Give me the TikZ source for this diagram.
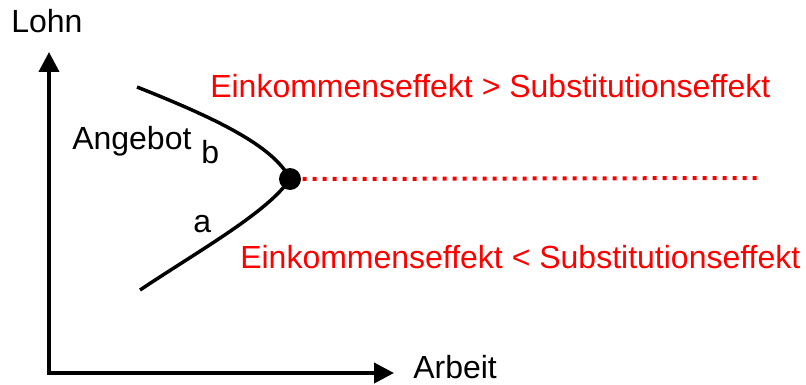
\documentclass[tikz,border=0pt]{standalone}
\usepackage{fontspec}
\setmainfont{Liberation Sans}
\usetikzlibrary{arrows.meta}
\definecolor{lblred}{RGB}{255,0,0}
\tikzset{
  axis/.style={line width=3pt,-{Triangle[length=15pt,width=15pt]}},
  curve/.style={line width=2.6pt},
  lbl/.style={font=\fontsize{24}{27}\selectfont,inner sep=0pt,anchor=base west},
  redlbl/.style={lbl,text=lblred},
  dotpt/.style={circle,fill=black,minimum size=16.5pt,inner sep=0pt},
  reddots/.style={line width=3pt,draw=lblred,dash pattern=on 3pt off 4.5pt}
}
\begin{document}
\begin{tikzpicture}[x=0.75pt,y=-0.75pt]
\useasboundingbox (0,0) rectangle (806,385);
\coordinate (O) at (49,373);
\coordinate (ytip) at (49,52);
\coordinate (xtip) at (394,373);
\draw[axis] ([yshift=-1.5pt]O) -- (ytip);
\draw[axis] (O) -- (xtip);
\node[lbl] (lohn) at (11,33) {Lohn};
\node[lbl] (arbeit) at (413,378) {Arbeit};
\coordinate (top) at (137,87);
\coordinate (bot) at (140,290);
\node[dotpt] (dot) at (290,179) {};
\draw[curve] (top) .. controls (215,118) and (274,146) .. (dot.center)
  .. controls (268,212) and (200,250) .. (bot);
\coordinate (dend) at (757,178);
\draw[reddots] (dot.east) ++(1pt,0) -- (dend);
\node[lbl] (angebot) at (72,149) {Angebot};
\node[lbl] (b) at (201,163) {b};
\node[lbl] (a) at (193,232) {a};
\node[redlbl] (upper) at (210,98) {Einkommenseffekt > Substitutionseffekt};
\node[redlbl] (lower) at (240,268) {Einkommenseffekt < Substitutionseffekt};
\end{tikzpicture}
\end{document}
